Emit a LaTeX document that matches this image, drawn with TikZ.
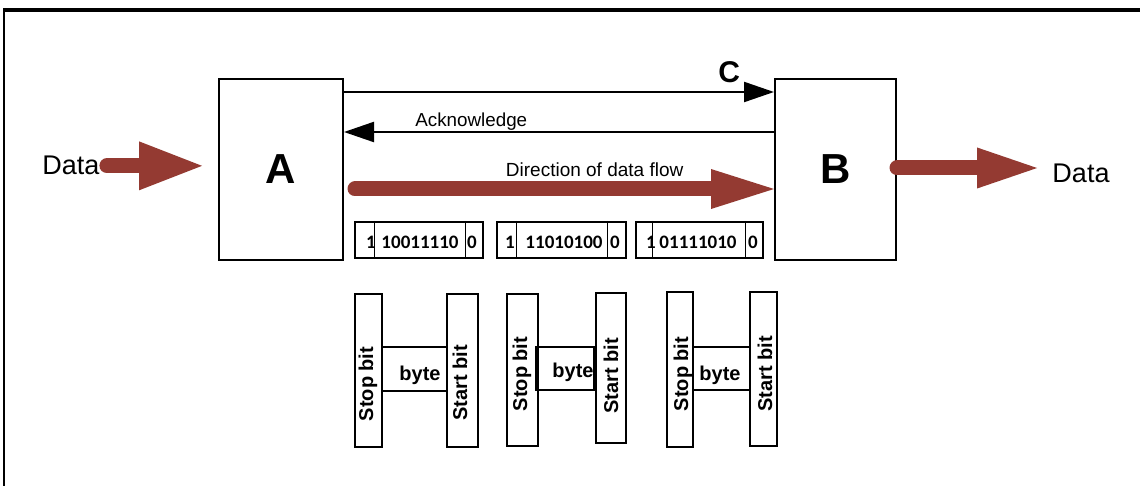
\documentclass[tikz,border=0pt]{standalone}
\usepackage{fontspec}
\setmainfont{Liberation Sans}
\newfontfamily\calfont{Carlito}
\usetikzlibrary{arrows.meta,calc}

\definecolor{flowred}{RGB}{148,58,50}

\tikzstyle{station} = [draw, line width=1pt, minimum width=62pt, minimum height=90.5pt, inner sep=0pt, font=\fontsize{21}{25}\selectfont\bfseries]
\tikzstyle{sig} = [line width=1.1pt, -{Triangle[length=15pt,width=10pt]}]
\tikzstyle{fat} = [line width=7.5pt, flowred, line cap=round]
\tikzstyle{datatext} = [inner sep=0pt, font=\fontsize{13.5}{16}\selectfont]
\tikzstyle{frame} = [draw, line width=1pt, minimum height=18pt, inner sep=0pt]
\tikzstyle{divider} = [line width=0.5pt]
\tikzstyle{bits} = [inner sep=0pt, anchor=base, font=\calfont\fontsize{9.5}{11}\selectfont\bfseries]
\tikzstyle{bar} = [draw, line width=1pt, inner sep=0pt]
\tikzstyle{barlabel} = [inner sep=0pt, rotate=90, anchor=base, font=\fontsize{10}{12}\selectfont\bfseries]

\begin{document}
\begin{tikzpicture}[x=0.5pt, y=-0.5pt]
\useasboundingbox (0,0) rectangle (1140,486);
%border
\draw[line width=1.7pt] (3,10) -- (1140,10);
\draw[line width=1.2pt] (4,9) -- (4,486);
%stations
\node[station] (A) at (281,169.5) {A};
\node[station, minimum width=60.5pt] (B) at (835.5,169.5) {B};
%begin signals
\draw[sig] ($(A.north east)+(0,14)$) -- ($(B.north west)+(0,14)$)
    node[pos=0.896, above=4pt, inner sep=0pt, font=\fontsize{15}{18}\selectfont\bfseries] {C};
\draw[sig] ($(B.north west)+(0,54)$) -- ($(A.north east)+(0,54)$)
    node[pos=0.704, above=0.3pt, inner sep=0pt, font=\fontsize{9.4}{11}\selectfont] {Acknowledge};
\draw[fat, -{Triangle[length=31.5pt,width=20pt,line width=0pt]}] ($(A.east)+(11,19.5)$) -- ($(B.west)+(0,19.5)$)
    node[pos=0.572, above=2.5pt, inner sep=0pt, black, font=\fontsize{9.5}{11}\selectfont] {Direction of data flow};
%end signals
%begin data in/out
\node[datatext, anchor=base] (dataIn) at (71,175) {Data};
\draw[fat, -{Triangle[length=31.5pt,width=24.5pt,line width=0pt]}] ([xshift=3.5pt]dataIn.east) -- ($(A.west |- dataIn.east)+(-16,0)$);
\node[datatext, anchor=base] (dataOut) at (1081,183) {Data};
\draw[fat, -{Triangle[length=30pt,width=20.5pt,line width=0pt]}] ($(B.east)+(0,-1.5)$) -- ($(dataOut.west |- B.east)+(-15,-1.5)$);
%end data in/out
%begin frame 1
\node[frame, minimum width=64pt] (f1) at (419,240) {};
\draw[divider] ($(f1.north west)+(20,0)$) -- ($(f1.south west)+(20,0)$);
\draw[divider] ($(f1.north east)+(-19,0)$) -- ($(f1.south east)+(-19,0)$);
\node[bits] (f1stop) at (371,249) {1};
\node[bits] (f1byte) at (420,249) {10011110};
\node[bits] (f1start) at (472,249) {0};
%end frame 1
%begin frame 2
\node[frame, minimum width=64.5pt] (f2) at (561.5,240) {};
\draw[divider] ($(f2.north west)+(20,0)$) -- ($(f2.south west)+(20,0)$);
\draw[divider] ($(f2.north east)+(-20,0)$) -- ($(f2.south east)+(-20,0)$);
\node[bits] (f2stop) at (510,249) {1};
\node[bits] (f2byte) at (564,249) {11010100};
\node[bits] (f2start) at (615,249) {0};
%end frame 2
%begin frame 3
\node[frame, minimum width=63.5pt] (f3) at (699.5,240) {};
\draw[divider] ($(f3.north west)+(17,0)$) -- ($(f3.south west)+(17,0)$);
\draw[divider] ($(f3.north east)+(-19,0)$) -- ($(f3.south east)+(-19,0)$);
\node[bits] (f3stop) at (651,249) {1};
\node[bits] (f3byte) at (698,249) {01111010};
\node[bits] (f3start) at (753,249) {0};
%end frame 3
%begin H 1
\node[bar, minimum width=13.5pt, minimum height=76.5pt] (stop1) at (368.5,370.5) {};
\node[bar, minimum width=15.5pt, minimum height=76.5pt] (start1) at (462.5,370.5) {};
\node[bar, minimum width=32.5pt, minimum height=22pt] (byte1) at (414.5,369) {};
\node[barlabel] at (373,384) {Stop bit};
\node[barlabel] at (467,383) {Start bit};
\node[inner sep=0pt, anchor=base, font=\fontsize{10}{12}\selectfont\bfseries] at (420,380) {byte};
%end H 1
%begin H 2
\node[bar, minimum width=15.5pt, minimum height=76pt] (stop2) at (522.5,370) {};
\node[bar, minimum width=15pt, minimum height=75pt] (start2) at (611,368) {};
\node[bar, minimum width=29pt, minimum height=21.5pt] (byte2) at (565,368.5) {};
\node[barlabel] at (527,374) {Stop bit};
\node[barlabel] at (618,376) {Start bit};
\node[inner sep=0pt, anchor=base, font=\fontsize{10}{12}\selectfont\bfseries] at (573,377) {byte};
%end H 2
%begin H 3
\node[bar, minimum width=13pt, minimum height=77.5pt] (stop3) at (680,369.5) {};
\node[bar, minimum width=13.5pt, minimum height=77pt] (start3) at (763.5,369) {};
\node[bar, minimum width=28.5pt, minimum height=21.5pt] (byte3) at (721.5,368.5) {};
\node[barlabel] at (688,374) {Stop bit};
\node[barlabel] at (772,374) {Start bit};
\node[inner sep=0pt, anchor=base, font=\fontsize{10}{12}\selectfont\bfseries] at (720,380) {byte};
%end H 3
\end{tikzpicture}
\end{document}
